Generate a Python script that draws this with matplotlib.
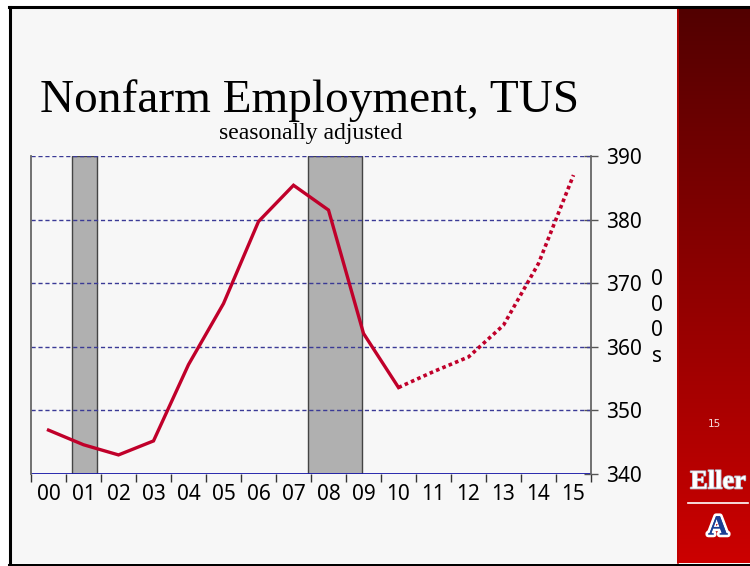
import numpy as np
import matplotlib.pyplot as plt
from matplotlib import patheffects as pe

# Data (thousands of jobs, annual, seasonally adjusted)
years = ['00', '01', '02', '03', '04', '05', '06', '07',
         '08', '09', '10', '11', '12', '13', '14', '15']
actual = [346.9, 344.6, 343.0, 345.2, 357.2, 366.8, 379.7, 385.4,
          381.5, 362.1, 353.6]
forecast = [353.6, 356.1, 358.4, 363.4, 373.1, 387.0]
# recession periods, fractional years
recessions = [(2001.17, 2001.88), (2007.92, 2009.46)]
y_ticks = [340, 350, 360, 370, 380, 390]

W, H = 750, 566
fig = plt.figure(figsize=(W / 100, H / 100), dpi=100, facecolor='white')

# slide background drawn in pixel coords
bg = fig.add_axes([0, 0, 1, 1], zorder=0)
bg.set_xlim(0, W)
bg.set_ylim(H, 0)
bg.axis('off')
bg.add_patch(plt.Rectangle((11, 8), 667, 555, facecolor='#f7f7f7', edgecolor='none'))
# red gradient band on the right
grad = np.linspace(0, 1, 256).reshape(-1, 1)
top_c = np.array([0x52, 0x00, 0x00]) / 255
bot_c = np.array([0xcc, 0x00, 0x00]) / 255
img = top_c + grad[..., None] * (bot_c - top_c)
bg.imshow(img, extent=(677, W, 563, 8), aspect='auto', zorder=1)
bg.plot([677.5, 677.5], [8, 563], color='#c00000', lw=1.2, zorder=2)
# border
bg.plot([9, W], [7, 7], color='black', lw=2.2, zorder=3)
bg.plot([10, 10], [7, 565], color='black', lw=2.2, zorder=3)
bg.plot([9, W], [564.5, 564.5], color='black', lw=2.2, zorder=3)

# titles
bg.text(310, 112, 'Nonfarm Employment, TUS', family='Liberation Serif',
        fontsize=34, ha='center', va='baseline', color='black', zorder=4)
bg.text(311, 139, 'seasonally adjusted', family='Liberation Serif',
        fontsize=17, ha='center', va='baseline', color='black', zorder=4)

# side band decorations
bg.text(714, 424, '15', fontsize=7.5, color='#f6dede', ha='center', va='center', zorder=4)
bg.text(718, 482, 'Eller', family='Liberation Serif', fontweight='bold',
        fontsize=19, color='white', ha='center', va='center', zorder=4,
        path_effects=[pe.withStroke(linewidth=1.2, foreground='#b8b8c8')])
bg.plot([688, 748], [503, 503], color='white', lw=1.2, zorder=4)
bg.text(718, 528, 'A', family='Liberation Serif', fontweight='bold',
        fontsize=20, color='#1c3f94', ha='center', va='center', zorder=4,
        path_effects=[pe.withStroke(linewidth=4, foreground='white'),
                      pe.Normal()])

# main chart
ax = fig.add_axes([31 / W, 1 - 474 / H, 560 / W, 318 / H], zorder=2)
ax.patch.set_alpha(0)

x_act = np.arange(len(actual))
x_fc = np.arange(len(actual) - 1, len(actual) - 1 + len(forecast))

for start, end in recessions:
    ax.axvspan(start - 2000 - 0.5, end - 2000 - 0.5, facecolor='#b0b0b0',
               edgecolor='#444444', lw=1.0, zorder=1)

for v in y_ticks[1:]:
    ax.axhline(v, color='#3a3a96', lw=1.0, ls=(0, (3, 2)), zorder=2)
ax.axhline(y_ticks[0], color='#1a1aa8', lw=1.3, zorder=2)

ax.plot(x_act, actual, color='#c0002a', lw=2.4, zorder=4, solid_joinstyle='miter')
ax.plot(x_fc, forecast, color='#c0002a', lw=2.6, ls=(0, (1, 0.9)), zorder=4)

ax.set_xlim(-0.5, len(years) - 0.5)
ax.set_ylim(340, 390)

# x axis: ticks at category boundaries, labels centred
ax.set_xticks(np.arange(-0.5, len(years)))
ax.set_xticklabels([])
ax.set_xticks(np.arange(len(years)), minor=True)
ax.set_xticklabels(years, minor=True, family='Noto Sans', fontsize=15)
ax.tick_params(axis='x', which='major', length=6, width=1, color='#333333', direction='out')
ax.tick_params(axis='x', which='minor', length=0, pad=7)

# y axis on the right
ax.yaxis.tick_right()
ax.set_yticks(y_ticks)
ax.set_yticklabels([str(v) for v in y_ticks], family='Noto Sans', fontsize=15)
ax.tick_params(axis='y', length=10, width=1, color='#555555', direction='inout', pad=6)

for s in ['top', 'bottom']:
    ax.spines[s].set_visible(False)
for s in ['left', 'right']:
    ax.spines[s].set_color('#666666')
    ax.spines[s].set_linewidth(1.3)

bg.text(657, 318, '0\n0\n0\ns', family='Noto Sans', fontsize=15, ha='center',
        va='center', linespacing=1.3, zorder=4)

fig.savefig('out.png', dpi=100)
